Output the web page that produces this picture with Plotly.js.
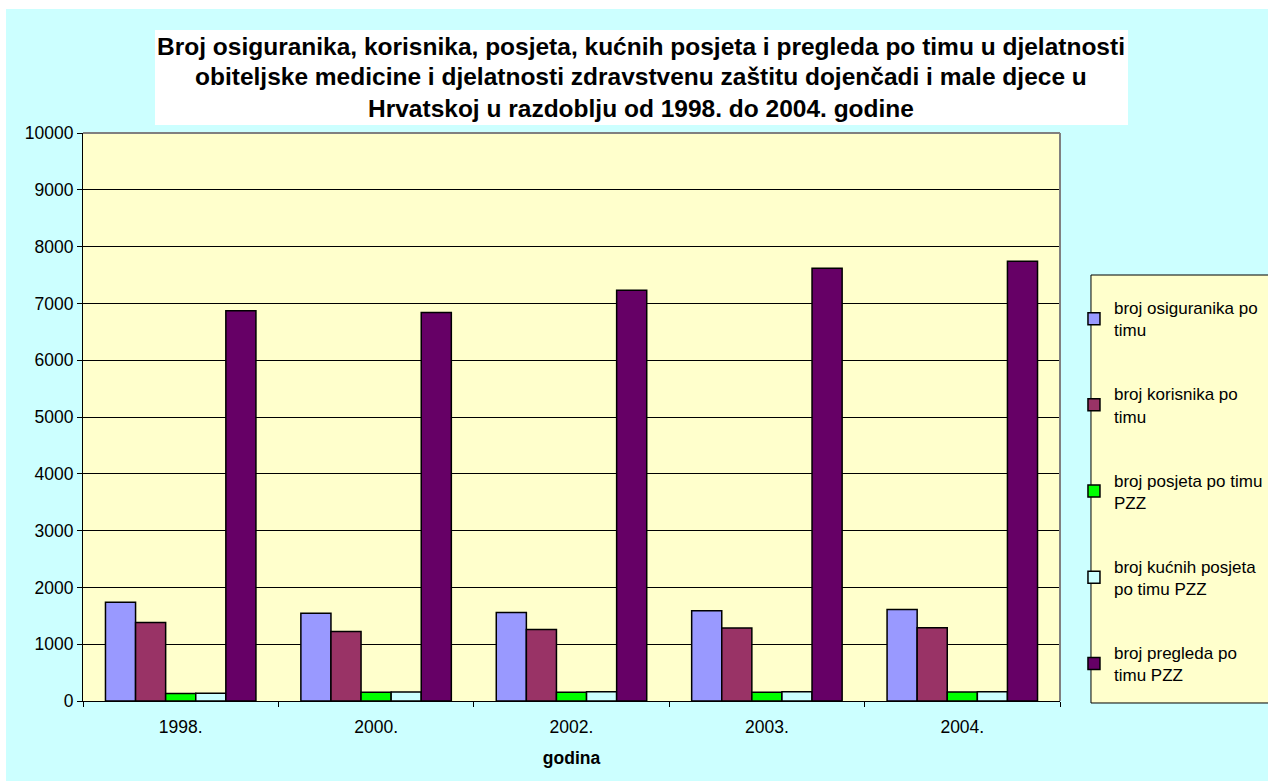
<!DOCTYPE html>
<html>
<head>
<meta charset="utf-8">
<script src="https://cdn.plot.ly/plotly-3.0.1.min.js"></script>
<style>
  html, body { margin: 0; padding: 0; background: #ffffff; overflow: hidden; }
  #chart { position: absolute; left: 6px; top: 9px; width: 1262px; height: 772px; }
</style>
</head>
<body>
<div id="chart"></div>
<script>
const years = ['1998.', '2000.', '2002.', '2003.', '2004.'];
const osiguranika = [1740, 1545, 1560, 1590, 1610];
const korisnika = [1380, 1225, 1260, 1285, 1290];
const posjeta = [130, 155, 155, 155, 158];
const kucnihPosjeta = [135, 160, 165, 165, 165];
const pregleda = [6870, 6840, 7230, 7620, 7740];

const seriesNames = [
  'broj osiguranika po<br>timu',
  'broj korisnika po<br>timu',
  'broj posjeta po timu<br>PZZ',
  'broj kućnih posjeta<br>po timu PZZ',
  'broj pregleda po<br>timu PZZ'
];
const titleLines = [
  'Broj osiguranika, korisnika, posjeta, kućnih posjeta i pregleda po timu u djelatnosti',
  'obiteljske medicine i djelatnosti zdravstvenu zaštitu dojenčadi i male djece u',
  'Hrvatskoj u razdoblju od 1998. do 2004. godine'
];
const xTitle = 'godina';

const seriesValues = [osiguranika, korisnika, posjeta, kucnihPosjeta, pregleda];
const colors = ['#9999FF', '#993366', '#00FF00', '#CCFFFF', '#660066'];

const traces = seriesValues.map((vals, i) => ({
  type: 'bar',
  x: years,
  y: vals,
  name: seriesNames[i],
  legendgroup: 'g' + i,
  marker: { color: colors[i], line: { color: '#000000', width: 1.5 } },
  hoverinfo: 'x+y'
}));

const FONT = 'Arial, "Liberation Sans", Helvetica, sans-serif';
const titleY = [1.153, 1.0986, 1.044];
const annotations = titleLines.map((t, i) => ({
  text: '<b>' + t + '</b>',
  xref: 'paper', yref: 'paper',
  x: 0.5716, y: titleY[i],
  xanchor: 'center', yanchor: 'middle',
  showarrow: false,
  font: { family: FONT, size: 24.5, color: '#000000' }
}));

const layout = {
  width: 1262,
  height: 772,
  margin: { l: 77, r: 208, t: 124, b: 80, autoexpand: false },
  paper_bgcolor: '#CCFFFF',
  plot_bgcolor: '#FFFFCC',
  font: { family: FONT, size: 17.5, color: '#000000' },
  barmode: 'group',
  bargap: 0.23,
  bargroupgap: 0,
  showlegend: true,
  legend: {
    x: 1.0143, xanchor: 'left',
    y: 0.7235, yanchor: 'top',
    bgcolor: 'rgba(0,0,0,0)',
    borderwidth: 0,
    traceorder: 'grouped',
    tracegroupgap: 39,
    font: { family: FONT, size: 17, color: '#000000' }
  },
  xaxis: {
    type: 'category',
    showline: true, linecolor: '#000000', linewidth: 1,
    ticks: 'outside', tickson: 'boundaries', ticklen: 5, tickcolor: '#000000',
    ticklabelstandoff: 10,
    showgrid: false, zeroline: false,
    tickfont: { family: FONT, size: 17.5, color: '#000000' },
    title: { text: '<b>' + xTitle + '</b>', font: { family: FONT, size: 17.5, color: '#000000' }, standoff: 15 },
    automargin: false
  },
  yaxis: {
    range: [0, 10000],
    dtick: 1000,
    tick0: 0,
    tickformat: 'd',
    showline: true, linecolor: '#000000', linewidth: 1,
    ticks: 'outside', ticklen: 5, tickcolor: '#000000',
    showgrid: true, gridcolor: '#000000', gridwidth: 1,
    zeroline: false,
    tickfont: { family: FONT, size: 17.5, color: '#000000' },
    automargin: false
  },
  shapes: [
    { type: 'rect', xref: 'paper', yref: 'paper', x0: 0.0737, x1: 1.0696, y0: 1.0141, y1: 1.1813,
      fillcolor: '#FFFFFF', line: { width: 0 }, layer: 'below' },
    { type: 'line', xref: 'paper', yref: 'paper', x0: 0, x1: 1, y0: 1, y1: 1,
      line: { color: '#808080', width: 2 }, layer: 'above' },
    { type: 'line', xref: 'paper', yref: 'paper', x0: 1, x1: 1, y0: 0, y1: 1,
      line: { color: '#808080', width: 2 }, layer: 'above' },
    { type: 'rect', xref: 'paper', yref: 'paper', x0: 1.0317, x1: 1.26, y0: -0.0035, y1: 0.75,
      fillcolor: '#FFFFCC', line: { color: '#000000', width: 1 }, layer: 'below' }
  ],
  annotations: annotations
};

Plotly.newPlot('chart', traces, layout, { displayModeBar: false, staticPlot: true });
</script>
</body>
</html>
